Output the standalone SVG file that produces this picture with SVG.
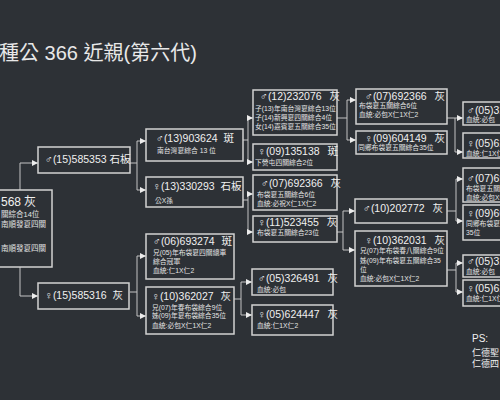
<svg xmlns="http://www.w3.org/2000/svg" width="500" height="400" viewBox="0 0 500 400">
<defs>
<style>
.bg{fill:#2d3136}
.bx{fill:#2d3136;stroke:#d2d2d2;stroke-width:1.5}
.ln{fill:none;stroke:#c4c4c4;stroke-width:1}
.ar{fill:none;stroke:#c4c4c4;stroke-width:1;marker-end:url(#ah)}
text{font-family:"Liberation Sans Narrow","Liberation Sans","Noto Sans CJK TC",sans-serif;fill:#f0f0f0}
.h{font-size:10.5px}
.c{font-family:"Noto Sans CJK TC",sans-serif}
.s{font-size:6.8px;fill:#e4e4e4}
.t{font-family:"Liberation Sans","Noto Sans CJK TC",sans-serif;font-size:20px;fill:#e8e8e8}
</style>
<marker id="ah" markerUnits="userSpaceOnUse" markerWidth="6" markerHeight="6" refX="6" refY="3" orient="auto">
<path d="M0,0 L6,3 L0,6 z" fill="#ececec"/>
</marker>
</defs>
<rect class="bg" x="0" y="0" width="500" height="400"/>
<text class="t" x="-1" y="60">種公 366 近親(第六代)</text>

<g id="connectors">
<path class="ln" d="M20,163 V296"/>
<path class="ar" d="M20,163 H38"/>
<path class="ar" d="M20,296 H38"/>
<path class="ln" d="M130,163 H137 M137,141 V190"/>
<path class="ar" d="M137,141 H146"/>
<path class="ar" d="M137,190 H146"/>
<path class="ln" d="M130,292 H137 M137,256 V316"/>
<path class="ar" d="M137,256 H146"/>
<path class="ar" d="M137,316 H146"/>
<path class="ln" d="M243,140 H248 M248,118 V162"/>
<path class="ar" d="M247,118 H253"/>
<path class="ar" d="M247,162 H253"/>
<path class="ln" d="M243,200 H248 M248,194 V232"/>
<path class="ar" d="M247,194 H253"/>
<path class="ar" d="M247,232 H253"/>
<path class="ln" d="M234,299 H241 M241,282 V315"/>
<path class="ar" d="M241,282 H252"/>
<path class="ar" d="M241,315 H252"/>
<path class="ln" d="M337,118 H347 M347,100 V140"/>
<path class="ar" d="M347,100 H356"/>
<path class="ar" d="M347,140 H356"/>
<path class="ln" d="M337,232 H343 M343,211 V250"/>
<path class="ar" d="M343,211 H355"/>
<path class="ar" d="M343,250 H355"/>
<path class="ln" d="M447,118 H455 V152"/>
<path class="ar" d="M455,118 H463"/>
<path class="ar" d="M455,152 H463"/>
<path class="ln" d="M447,211 H456 M456,179 V221"/>
<path class="ar" d="M456,179 H463"/>
<path class="ar" d="M456,221 H463"/>
<path class="ln" d="M447,270 H456 M456,263 V292"/>
<path class="ar" d="M456,263 H463"/>
<path class="ar" d="M456,292 H463"/>
</g>

<g id="root">
<rect class="bx" x="-5" y="190" width="57" height="77"/>
<text x="1" y="206" style="font-size:12px">568<tspan class="c" dx="3">灰</tspan></text>
<text class="s" x="1" y="217" style="font-size:7.5px">關綜合14位</text>
<text class="s" x="1" y="227" style="font-size:7.5px">南順發夏四關</text>
<text class="s" x="1" y="251" style="font-size:7.5px">南順發夏四關</text>
</g>

<g id="n-15-585353">
<rect class="bx" x="38" y="147" width="92" height="26"/>
<text class="h" x="45" y="163">♂(15)585353 <tspan class="c">石板</tspan></text>
</g>
<g id="n-15-585316">
<rect class="bx" x="38" y="283" width="91" height="26"/>
<text class="h" x="45" y="299">♀(15)585316 <tspan class="c" dx="3">灰</tspan></text>
</g>

<g id="n-13-903624">
<rect class="bx" x="146" y="129" width="97" height="32"/>
<text class="h" x="156" y="142">♂(13)903624 <tspan class="c" dx="3">斑</tspan></text>
<text class="s" x="157" y="153">南台灣夏綜合 13 位</text>
</g>
<g id="n-13-330293">
<rect class="bx" x="146" y="177" width="97" height="30"/>
<text class="h" x="153" y="190">♀(13)330293 <tspan class="c" dx="3">石板</tspan></text>
<text class="s" x="155" y="203">公X孫</text>
</g>
<g id="n-06-693274">
<rect class="bx" x="146" y="234" width="88" height="45"/>
<text class="h" x="153" y="245">♂(06)693274 <tspan class="c" dx="4">斑</tspan></text>
<text class="s" x="153" y="255">兄(05)年布袋夏四關總車</text>
<text class="s" x="153" y="264">綜合冠軍</text>
<text class="s" x="153" y="273">血統:仁1X仁2</text>
</g>
<g id="n-10-362027">
<rect class="bx" x="146" y="287" width="88" height="47"/>
<text class="h" x="152" y="300">♀(10)362027 <tspan class="c" dx="4">灰</tspan></text>
<text class="s" x="152" y="310">兄(07)年春布袋綜合9位</text>
<text class="s" x="152" y="318">姊(09)年夏布袋綜合35位</text>
<text class="s" x="152" y="328">血統:必包X仁1X仁2</text>
</g>

<g id="n-12-232076">
<rect class="bx" x="253" y="90" width="84" height="45"/>
<text class="h" x="260" y="100">♂(12)232076 <tspan class="c" dx="5">灰</tspan></text>
<text class="s" x="255" y="111">子(13)年南台灣夏綜合13位</text>
<text class="s" x="255" y="120">子(14)新興夏四關綜合4位</text>
<text class="s" x="255" y="129">女(14)嘉賓夏五關綜合35位</text>
</g>
<g id="n-09-135138">
<rect class="bx" x="253" y="144" width="84" height="26"/>
<text class="h" x="258" y="155">♀(09)135138 <tspan class="c" dx="5">斑</tspan></text>
<text class="s" x="255" y="165">下營屯四關綜合2位</text>
</g>
<g id="n-07-692366a">
<rect class="bx" x="253" y="175" width="84" height="35"/>
<text class="h" x="261" y="187">♂(07)692366 <tspan class="c" dx="5">灰</tspan></text>
<text class="s" x="257" y="197">布袋夏五關綜合6位</text>
<text class="s" x="257" y="206">血統:必祝X仁1X仁2</text>
</g>
<g id="n-11-523455">
<rect class="bx" x="253" y="216" width="84" height="26"/>
<text class="h" x="258" y="226">♀(11)523455 <tspan class="c" dx="5">灰</tspan></text>
<text class="s" x="257" y="235">布袋夏五關綜合23位</text>
</g>
<g id="n-05-326491a">
<rect class="bx" x="252" y="269" width="81" height="26"/>
<text class="h" x="258" y="282">♂(05)326491 <tspan class="c" dx="5">灰</tspan></text>
<text class="s" x="257" y="292">血統:必包</text>
</g>
<g id="n-05-624447a">
<rect class="bx" x="252" y="305" width="81" height="30"/>
<text class="h" x="258" y="318">♀(05)624447 <tspan class="c" dx="5">灰</tspan></text>
<text class="s" x="257" y="328">血統:仁1X仁2</text>
</g>

<g id="n-07-692366b">
<rect class="bx" x="356" y="89" width="91" height="35"/>
<text class="h" x="365" y="100">♂(07)692366 <tspan class="c" dx="5">灰</tspan></text>
<text class="s" x="359" y="108">布袋夏五關綜合6位</text>
<text class="s" x="359" y="117">血統:必包X仁1X仁2</text>
</g>
<g id="n-09-604149a">
<rect class="bx" x="356" y="131" width="91" height="23"/>
<text class="h" x="365" y="142">♀(09)604149 <tspan class="c" dx="5">灰</tspan></text>
<text class="s" x="358" y="150">同鄉布袋夏五關綜合35位</text>
</g>
<g id="n-10-202772">
<rect class="bx" x="355" y="199" width="92" height="24"/>
<text class="h" x="363" y="212">♂(10)202772 <tspan class="c" dx="5">灰</tspan></text>
</g>
<g id="n-10-362031">
<rect class="bx" x="355" y="231" width="92" height="55"/>
<text class="h" x="365" y="244">♀(10)362031 <tspan class="c" dx="5">灰</tspan></text>
<text class="s" x="360" y="253">兄(07)年布袋春八關綜合9位</text>
<text class="s" x="360" y="263">姊(09)年布袋夏五關綜合35</text>
<text class="s" x="360" y="272">位</text>
<text class="s" x="360" y="281">血統:必包X仁1X仁2</text>
</g>

<g id="n-05-326491b">
<rect class="bx" x="463" y="102" width="70" height="23"/>
<text class="h" x="467" y="114">♂(05)326491 <tspan class="c" dx="5">灰</tspan></text>
<text class="s" x="466" y="122">血統:必包</text>
</g>
<g id="n-05-624447b">
<rect class="bx" x="463" y="133" width="70" height="25"/>
<text class="h" x="467" y="147">♀(05)624447 <tspan class="c" dx="5">灰</tspan></text>
<text class="s" x="466" y="156">血統:仁1X仁2</text>
</g>
<g id="n-07-692366c">
<rect class="bx" x="463" y="168" width="70" height="34"/>
<text class="h" x="467" y="182">♂(07)692366 <tspan class="c" dx="5">灰</tspan></text>
<text class="s" x="466" y="191">布袋夏五關綜合6位</text>
<text class="s" x="466" y="200">血統:必包X仁1X仁2</text>
</g>
<g id="n-09-604149b">
<rect class="bx" x="463" y="205" width="70" height="35"/>
<text class="h" x="467" y="217">♀(09)604149 <tspan class="c" dx="5">灰</tspan></text>
<text class="s" x="466" y="226">同鄉布袋夏五關綜合</text>
<text class="s" x="466" y="235">35位</text>
</g>
<g id="n-05-326491c">
<rect class="bx" x="463" y="255" width="70" height="22"/>
<text class="h" x="467" y="265">♂(05)326491 <tspan class="c" dx="5">灰</tspan></text>
<text class="s" x="466" y="274">血統:必包</text>
</g>
<g id="n-05-624447c">
<rect class="bx" x="463" y="280" width="70" height="26"/>
<text class="h" x="467" y="292">♀(05)624447 <tspan class="c" dx="5">灰</tspan></text>
<text class="s" x="466" y="301">血統:仁1X仁2</text>
</g>

<g id="note">
<text x="472" y="342" style="font-size:10px">PS:</text>
<text x="472" y="356" style="font-size:9px">仁德聖</text>
<text x="472" y="367" style="font-size:9px">仁德四</text>
</g>
</svg>
